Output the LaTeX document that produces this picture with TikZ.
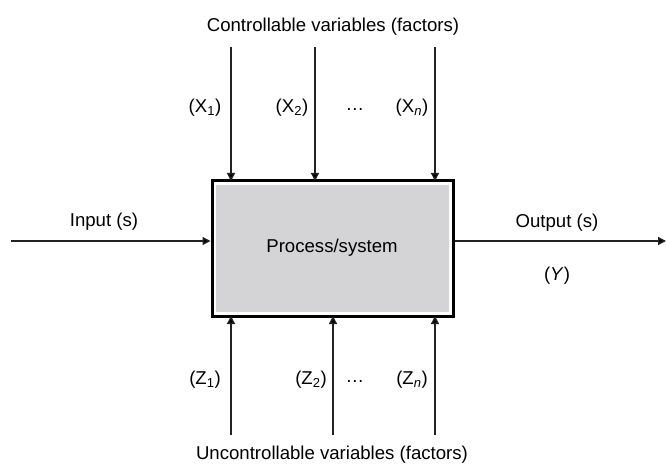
\documentclass[tikz,border=0pt]{standalone}
\usepackage{fontspec}
\setmainfont{Liberation Sans}
\usetikzlibrary{arrows.meta}
\definecolor{boxgray}{HTML}{D4D4D6}
\definecolor{linegray}{HTML}{222222}
\begin{document}
\begin{tikzpicture}[x=1pt,y=-1pt,
  lbl/.style={inner sep=0pt,font=\fontsize{18.6}{20}\selectfont},
  arr/.style={draw=linegray,line width=1.3pt,-{Triangle[length=8pt,width=8pt,fill=black]}}]
\useasboundingbox (0,0) rectangle (666,465);
% box
\node[draw=black,line width=3pt,fill=white,minimum width=241pt,minimum height=135pt,inner sep=0pt] (box) at (332.5,248.5) {};
\fill[boxgray] (216,185) rectangle (449,312);
\node[lbl] (proc) at (332,248) {Process/system};
% top
\node[lbl] (ctl) at (333,27) {Controllable variables (factors)};
\coordinate (t1) at (231,47);
\coordinate (t2) at (315,47);
\coordinate (t3) at (435,47);
\coordinate (b1) at (231,181);
\coordinate (b2) at (315,181);
\coordinate (b3) at (435,181);
\draw[arr] (t1) -- (b1);
\draw[arr] (t2) -- (b2);
\draw[arr] (t3) -- (b3);
\node[lbl] (x1) at (205,108) {(X\textsubscript{1})};
\node[lbl] (x2) at (292,108) {(X\textsubscript{2})};
\node[lbl] (xd) at (355,110) {\dots};
\node[lbl] (xn) at (412,108) {(X\textsubscript{\itshape n})};
% bottom
\coordinate (u1) at (231,435);
\coordinate (u2) at (333,435);
\coordinate (u3) at (435,435);
\coordinate (v1) at (231,316);
\coordinate (v2) at (333,316);
\coordinate (v3) at (435,316);
\draw[arr] (u1) -- (v1);
\draw[arr] (u2) -- (v2);
\draw[arr] (u3) -- (v3);
\node[lbl] (z1) at (205,380) {(Z\textsubscript{1})};
\node[lbl] (z2) at (311,380) {(Z\textsubscript{2})};
\node[lbl] (zd) at (355,382) {\dots};
\node[lbl] (zn) at (412,380) {(Z\textsubscript{\itshape n})};
\node[lbl] (unc) at (332,455) {Uncontrollable variables (factors)};
% input/output
\coordinate (in) at (11,241);
\coordinate (out) at (666,241);
\draw[arr] (in) -- (box.west |- in);
\draw[arr] (box.east |- out) -- (out);
\node[lbl] (inl) at (104,222) {Input (s)};
\node[lbl] (outl) at (557,223) {Output (s)};
\node[lbl] (y) at (557,276) {(\textit{Y})};
\end{tikzpicture}
\end{document}
